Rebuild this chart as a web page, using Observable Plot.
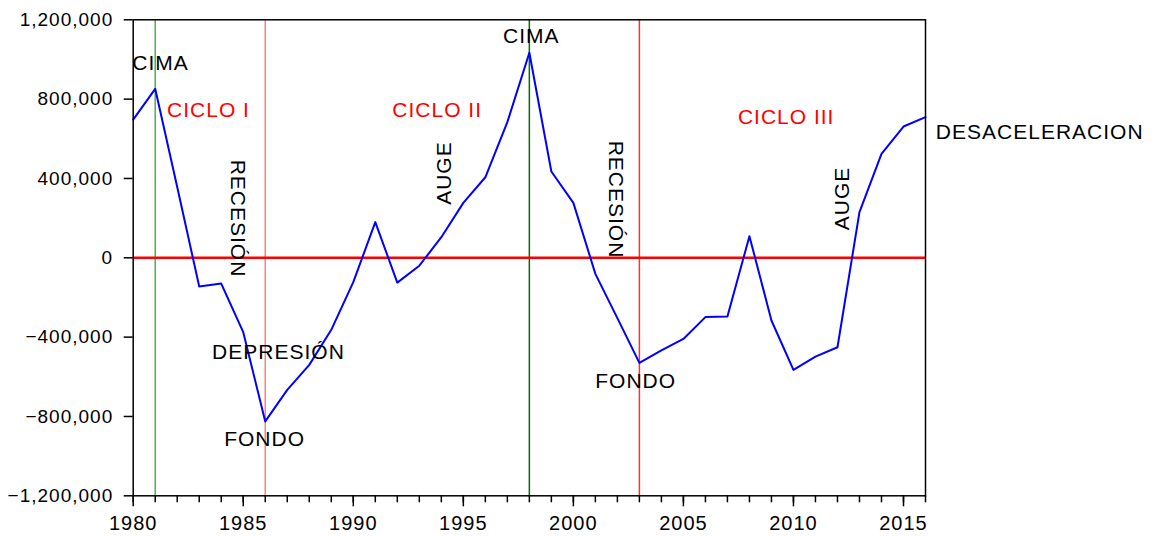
<!DOCTYPE html>
<html><head><meta charset="utf-8">
<script src="https://cdn.jsdelivr.net/npm/d3@7"></script>
<script src="https://cdn.jsdelivr.net/npm/@observablehq/plot@0.6"></script>
<style>
body{margin:0;background:#fff;}
svg{font-family:"Liberation Sans",Arial,sans-serif;}
</style>
</head><body><div id="chart"></div>
<script>
const years = [1980,1981,1982,1983,1984,1985,1986,1987,1988,1989,1990,1991,1992,1993,1994,1995,1996,1997,1998,1999,2000,2001,2002,2003,2004,2005,2006,2007,2008,2009,2010,2011,2012,2013,2014,2015,2016];
const values = [697000,852000,357000,-145000,-130000,-375000,-825000,-666000,-540000,-363000,-123000,180000,-125000,-40000,104000,277000,406000,684000,1034000,435000,277000,-81000,-304000,-530000,-467000,-409000,-299000,-296000,109000,-316000,-565000,-498000,-451000,230000,524000,662000,709000];

const yTicks = [-1200000,-800000,-400000,0,400000,800000,1200000];
const xMajorTicks = [1980,1985,1990,1995,2000,2005,2010,2015];

const markerYears = [1981,1986,1998,2003];
const markerColors = ["#4cb04c","#ff7f7f","#007000","#ff3030"];

const labelText = ["CIMA","CICLO I","RECESIÓN","DEPRESIÓN","FONDO","CICLO II","AUGE","CIMA","RECESIÓN","FONDO","CICLO III","AUGE","DESACELERACION"];
const labelYear = [1981.24,1983.42,1984.76,1986.6,1985.97,1993.81,1994.14,1998.09,2001.92,2002.83,2009.67,2012.24,2016.47];
const labelValue = [979000,743000,198000,-477000,-916000,743000,427000,1117000,294000,-624000,707000,299000,634000];
const labelRotate = [0,0,90,0,0,0,-90,0,90,0,0,-90,0];
const labelColor = ["#000","#ff0000","#000","#000","#000","#ff0000","#000","#000","#000","#000","#ff0000","#000","#000"];
const labelAnchor = ["middle","middle","middle","middle","middle","middle","middle","middle","middle","middle","middle","middle","start"];

const series = years.map((y,i)=>({year:y, value:values[i]}));
const markers = markerYears.map((y,i)=>({year:y, color:markerColors[i]}));
const labels = labelText.map((t,i)=>({text:t, year:labelYear[i], value:labelValue[i], rotate:labelRotate[i], color:labelColor[i], anchor:labelAnchor[i]}));

const chart = Plot.plot({
  width: 1156,
  height: 536,
  marginLeft: 132.7,
  marginRight: 231,
  marginTop: 19.3,
  marginBottom: 40.7,
  style: {fontFamily: "'Liberation Sans', Arial, sans-serif", fontSize: "19px", letterSpacing: "1px", color: "#000", background: "#fff"},
  x: {domain: [1980, 2016]},
  y: {domain: [-1200000, 1200000]},
  marks: [
    Plot.ruleX(markers, {x: "year", stroke: "color", strokeWidth: 1.5}),
    Plot.ruleY([0], {stroke: "#ff0000", strokeWidth: 2.5}),
    Plot.line(series, {x: "year", y: "value", stroke: "#0000ff", strokeWidth: 2}),
    Plot.frame({stroke: "#000", strokeWidth: 1.5}),
    Plot.axisY({ticks: yTicks, tickFormat: d3.format(","), tickSize: 9, tickPadding: 11, label: null, fontSize: 19, strokeWidth: 1.5}),
    Plot.axisX({ticks: years, tickSize: 7, text: null, label: null, strokeWidth: 1.5}),
    Plot.axisX({ticks: xMajorTicks, tickSize: 11, tickPadding: 9, tickFormat: d3.format("d"), label: null, fontSize: 20, strokeWidth: 1.5}),
    ...labels.map(l => Plot.text([l], {x: "year", y: "value", text: "text", fill: l.color, rotate: l.rotate, textAnchor: l.anchor, fontSize: 21}))
  ]
});
document.getElementById("chart").appendChild(chart);
</script>
</body></html>
